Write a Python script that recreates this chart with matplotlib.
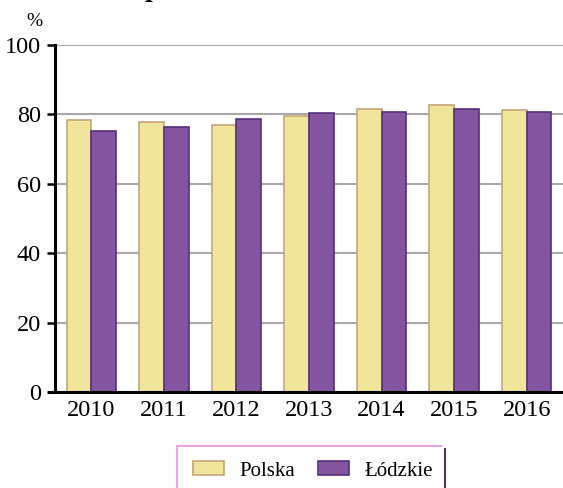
import matplotlib
matplotlib.use("Agg")
import matplotlib.pyplot as plt
import numpy as np
from matplotlib.patches import Patch
from matplotlib.lines import Line2D

years = ["2010", "2011", "2012", "2013", "2014", "2015", "2016"]
polska = [78.4, 77.9, 76.9, 79.5, 81.6, 82.8, 81.4]
lodzkie = [75.3, 76.4, 78.6, 80.5, 80.8, 81.6, 80.6]
series_names = ["Polska", "Łódzkie"]
yticks = [0, 20, 40, 60, 80, 100]

plt.rcParams['font.family'] = ['Liberation Serif', 'DejaVu Serif']

fig = plt.figure(figsize=(5.63, 4.88), dpi=100)
fig.patch.set_facecolor('#fdfdfd')
ax = fig.add_axes([55/563, 1-392/488, 1-55/563, (392-45)/488])
ax.set_facecolor('white')

x = np.arange(len(years))
w = 0.34
c_pol, e_pol = '#f1e59c', '#c4a57a'
c_lod, e_lod = '#8455a0', '#56307a'
ax.bar(x - w/2, polska, w, color=c_pol, edgecolor=e_pol, linewidth=1.2, zorder=3)
ax.bar(x + w/2, lodzkie, w, color=c_lod, edgecolor=e_lod, linewidth=1.2, zorder=3)

ax.set_xlim(-0.5, len(years) - 0.5)
ax.set_ylim(0, 100)
ax.set_yticks(yticks)
ax.set_yticklabels([str(v) for v in yticks], fontsize=17.5)
ax.set_xticks(x)
ax.set_xticklabels(years, fontsize=17.5)
ax.tick_params(axis='x', length=0, pad=6)
ax.tick_params(axis='y', length=6, width=1.8, direction='out', pad=4)
ax.yaxis.grid(True, color='#a8a8a8', linewidth=1.5, zorder=0)
ax.set_axisbelow(True)
for s in ['top', 'right']:
    ax.spines[s].set_visible(False)
for s in ['left', 'bottom']:
    ax.spines[s].set_linewidth(2.2)
    ax.spines[s].set_color('black')
    ax.spines[s].set_zorder(4)
ax.spines['bottom'].set_bounds(-0.5 - 6/73, 6.5)

fig.text(34/563, 1-22/488, '%', fontsize=14, ha='center', va='center')
fig.text(152/563, 1+4/488, 'p', fontsize=20, fontweight='bold', ha='center', va='baseline')

# legend frame lines
fig.add_artist(Line2D([177/563, 441/563], [1-446/488, 1-446/488], color='#e6a6e6', lw=1.5))
fig.add_artist(Line2D([177/563, 177/563], [1-446/488, 0], color='#e6a6e6', lw=1.5))
fig.add_artist(Line2D([445/563, 445/563], [1-449/488, 0], color='#5a2f70', lw=1.5))

handles = [Patch(facecolor=c_pol, edgecolor=e_pol, linewidth=1.2),
           Patch(facecolor=c_lod, edgecolor=e_lod, linewidth=1.2)]
fig.legend(handles, series_names, loc='center', bbox_to_anchor=(313/563, 1-471/488),
           ncol=2, frameon=False, fontsize=15, handlelength=1.5, handleheight=0.62,
           columnspacing=1.1, handletextpad=0.72, borderpad=0, borderaxespad=0)

fig.savefig('out.png', dpi=100, facecolor=fig.get_facecolor())
